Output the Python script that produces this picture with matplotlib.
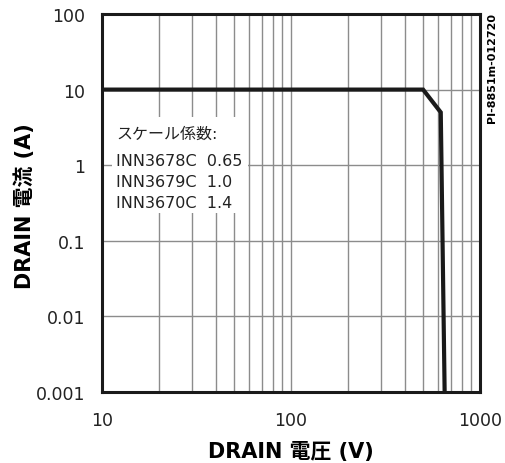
import numpy as np
import matplotlib.pyplot as plt

# SOA curve
voltage = [10, 500, 620, 650]
current = [10, 10, 5, 0.001]

x_ticks = [10, 100, 1000]
x_labels = ["10", "100", "1000"]
y_ticks = [0.001, 0.01, 0.1, 1, 10, 100]
y_labels = ["0.001", "0.01", "0.1", "1", "10", "100"]

legend_title = "スケール係数:"
legend_lines = ["INN3678C  0.65", "INN3679C  1.0", "INN3670C  1.4"]

plt.rcParams['font.family'] = ['DejaVu Sans', 'Noto Sans CJK JP']

fig = plt.figure(figsize=(5.06, 4.64), dpi=100)
ax = fig.add_axes([102/506, 1 - 393/464, 378/506, 378/464])

ax.plot(voltage, current, color='#1a1a1a', lw=3, solid_joinstyle='miter', zorder=3)

ax.set_xscale('log')
ax.set_yscale('log')
ax.set_xlim(10, 1000)
ax.set_ylim(0.001, 100)

ax.set_xticks(x_ticks)
ax.set_xticklabels(x_labels)
ax.set_yticks(y_ticks)
ax.set_yticklabels(y_labels)
ax.set_xticks([m * d for d in (10, 100) for m in range(2, 10)], minor=True)
ax.set_yticks([], minor=True)
ax.tick_params(which='both', length=0, labelsize=12.5, colors='#222222')
ax.tick_params(axis='x', pad=14)
ax.tick_params(axis='y', pad=12)

ax.grid(True, which='major', color='#8c8c8c', lw=1)
ax.grid(True, which='minor', axis='x', color='#8c8c8c', lw=1)
ax.set_axisbelow(True)
for s in ax.spines.values():
    s.set_linewidth(2.2)
    s.set_color('#1a1a1a')

ax.set_xlabel("DRAIN 電圧 (V)", fontsize=15, fontweight='bold', labelpad=8)
fig.text(25/506, 1 - 206/464, "DRAIN 電流 (A)", rotation=90, fontsize=15,
         fontweight='bold', ha='center', va='center')

# white box behind the scale-factor note hides the grid
box = plt.Rectangle((112/506, 1 - 214/464), 136/506, 96/464, transform=fig.transFigure,
                    facecolor='white', edgecolor='none', zorder=1)
fig.add_artist(box)
fig.text(116/506, 1 - 134/464, legend_title, fontsize=11.5, va='center', ha='left',
         color='#222222', zorder=4)
for i, line in enumerate(legend_lines):
    fig.text(116/506, 1 - (162 + 21 * i)/464, line, fontsize=11.5, va='center',
             ha='left', color='#222222', zorder=4)

fig.text(492/506, 1 - 68/464, "PI-8851m-012720", rotation=90, fontsize=8,
         fontweight='bold', ha='center', va='center')

fig.savefig('out.png', dpi=100)
